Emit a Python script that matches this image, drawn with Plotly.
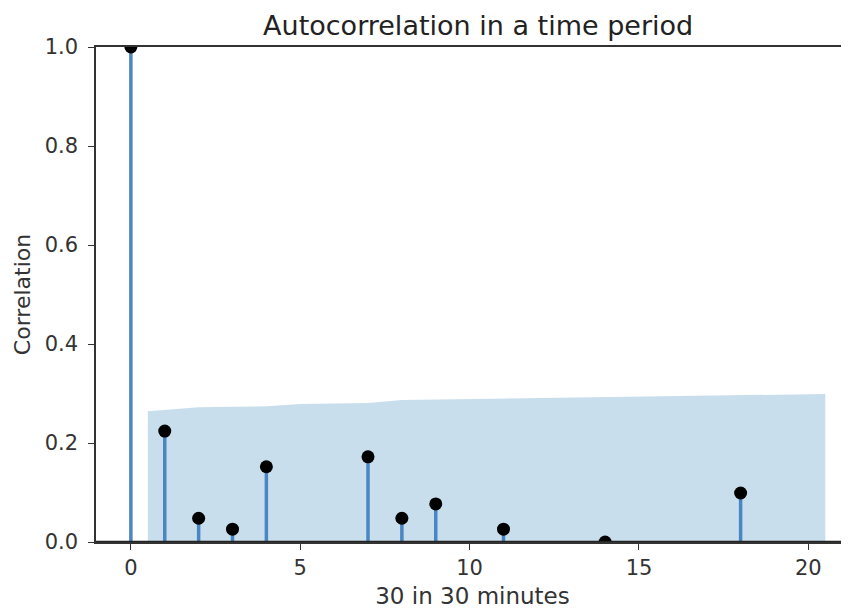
import plotly.graph_objects as go

# acf values (lags hidden below zero left as None)
lags = list(range(21))
acf = [1.0, 0.224, 0.048, 0.026, 0.152, None, None, 0.172, 0.048, 0.077,
       None, 0.026, None, None, 0.0, None, None, None, 0.099, None, None]
# upper confidence bound for lags 1..20
conf_upper = [0.264, 0.272, 0.273, 0.274, 0.279, 0.280, 0.281, 0.287, 0.288, 0.289,
              0.290, 0.291, 0.292, 0.293, 0.294, 0.295, 0.296, 0.297, 0.298, 0.299]

band_x = [float(l) for l in lags[1:]]
band_x[0] -= 0.5
band_x[-1] += 0.5

stem_x, stem_y = [], []
for l, v in zip(lags, acf):
    if v is None:
        continue
    stem_x += [l, l, None]
    stem_y += [0, v, None]

fig = go.Figure()
fig.add_trace(go.Scatter(x=band_x, y=conf_upper, mode="lines", line=dict(width=0),
                         fill="tozeroy", fillcolor="rgba(31,119,180,0.24)",
                         hoverinfo="skip", showlegend=False))
fig.add_trace(go.Scatter(x=stem_x, y=stem_y, mode="lines",
                         line=dict(color="#4a86c2", width=3.5), showlegend=False))
fig.add_trace(go.Scatter(x=lags, y=acf, mode="markers",
                         marker=dict(color="black", size=13), showlegend=False))

font = "DejaVu Sans"
# page body has an 8px margin, so the figure is a bit smaller than the window
fig.update_layout(
    width=841, height=606,
    margin=dict(l=88, r=0, t=39, b=72),
    plot_bgcolor="white", paper_bgcolor="white",
    font=dict(family=font, size=21, color="#333"),
    title=dict(text="Autocorrelation in a time period", x=0.559, xanchor="center",
               y=0.971, yanchor="middle", font=dict(size=27, color="#222")),
)
fig.update_xaxes(range=[-1.03, 21.2], tickvals=[0, 5, 10, 15, 20],
                 showgrid=False, zeroline=False,
                 showline=True, linecolor="#333", linewidth=1.5, mirror=True,
                 ticks="outside", ticklen=6, tickcolor="#333",
                 title=dict(text="30 in 30 minutes", font=dict(size=23), standoff=9))
fig.update_yaxes(range=[0, 1], tickvals=[0, 0.2, 0.4, 0.6, 0.8, 1.0], tickformat=".1f",
                 showgrid=False, zeroline=False,
                 showline=True, linecolor="#333", linewidth=1.5,
                 ticks="outside", ticklen=6, tickcolor="#333", ticklabelstandoff=6,
                 title=dict(text="Correlation", font=dict(size=22), standoff=8))
# heavy zero line like axhline(0)
fig.add_shape(type="line", xref="paper", yref="y", x0=0, x1=1, y0=0, y1=0,
              line=dict(color="#222", width=2.5))

fig.write_html("out.html")
